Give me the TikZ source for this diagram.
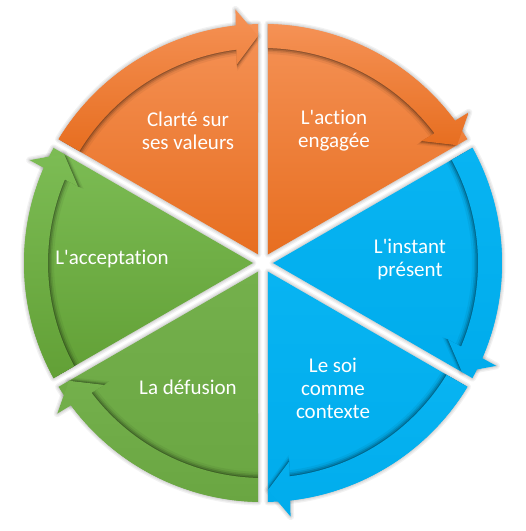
\documentclass[tikz,border=0pt]{standalone}
\usepackage{fontspec}
\setmainfont{Carlito}[Ligatures={NoCommon}]
\definecolor{orT}{RGB}{245,146,86}
\definecolor{orB}{RGB}{231,110,32}
\definecolor{blT}{RGB}{8,180,242}
\definecolor{blB}{RGB}{0,172,236}
\definecolor{grT}{RGB}{124,188,84}
\definecolor{grB}{RGB}{98,160,54}
\definecolor{gmT}{RGB}{116,176,76}
\definecolor{gmB}{RGB}{106,166,66}
\tikzset{
  lbl/.style={text=white,align=center,font=\fontsize{21}{23}\selectfont,inner sep=0pt},
  halo/.style={draw=black,line join=round,opacity=#1},
}
\begin{document}
\begin{tikzpicture}[x=1pt,y=1pt]
\useasboundingbox (-263,-268) rectangle (263,263);
% soft shadows around all shapes
\foreach \e in {30,-30,-90,-150,150,90}{
  \pgfmathsetmacro\s{\e+60-asin(5/239)}
  \pgfmathsetmacro\w{\e+asin(5/239)}
  \pgfmathsetmacro\m{\e+30}
  \pgfmathsetmacro\t{\e+asin(5/227)}
  \pgfmathsetmacro\ho{\t+asin(22/255)}
  \pgfmathsetmacro\hi{\t+asin(22/200)}
  \pgfmathsetmacro\bo{\t+asin(22/239)}
  \pgfmathsetmacro\bi{\t+asin(22/215)}
  \foreach \lw/\op in {7/0.05,4.5/0.06,2/0.07}{
    \path[halo=\op,line width=\lw] (\m:10) -- (\s:239) arc[start angle=\s,end angle=\w,radius=239] -- cycle;
    \path[halo=\op,line width=\lw] (\bo:239) -- (\ho:255) -- (\t:227) -- (\hi:200) -- (\bi:215) -- cycle;
  }
}
% segments: wedge, inner shadow of the band, band arrow
\foreach \e/\ct/\cb in {30/orT/orB,-30/blT/blB,-90/blT/blB,-150/gmT/gmB,150/grT/grB,90/orT/orB}{
  \pgfmathsetmacro\s{\e+60-asin(5/239)}
  \pgfmathsetmacro\w{\e+asin(5/239)}
  \pgfmathsetmacro\m{\e+30}
  \pgfmathsetmacro\si{\e+60-asin(5/215)}
  \pgfmathsetmacro\t{\e+asin(5/227)}
  \pgfmathsetmacro\ho{\t+asin(22/255)}
  \pgfmathsetmacro\hi{\t+asin(22/200)}
  \pgfmathsetmacro\bo{\t+asin(22/239)}
  \pgfmathsetmacro\bi{\t+asin(22/215)}
  \path[top color=\ct,bottom color=\cb] (\m:10) -- (\s:239) arc[start angle=\s,end angle=\w,radius=239] -- cycle;
  \begin{scope}
    \clip (\m:10) -- (\s:239) arc[start angle=\s,end angle=\w,radius=239] -- cycle;
    \foreach \d/\op in {1/0.2,2.5/0.14,4/0.09,6/0.05}{
      \fill[black,opacity=\op] (\si:{215-\d}) -- (\s:{239-\d}) arc[start angle=\s,end angle=\bo,radius={239-\d}] -- (\ho:{255-\d}) -- (\t:{227-\d}) -- (\hi:{200-\d}) -- (\bi:{215-\d}) arc[start angle=\bi,end angle=\si,radius={215-\d}] -- cycle;
    }
  \end{scope}
  \path[top color=\ct,bottom color=\cb] (\si:215) -- (\s:239) arc[start angle=\s,end angle=\bo,radius=239] -- (\ho:255) -- (\t:227) -- (\hi:200) -- (\bi:215) arc[start angle=\bi,end angle=\si,radius=215] -- cycle;
}
\node[lbl] (valeurs) at (-75,132) {Clart\'e sur\\ses valeurs};
\node[lbl] (action) at (71,132) {L\textquotesingle action\\engag\'ee};
\node[lbl] (instant) at (147,4) {L\textquotesingle instant\\pr\'esent};
\node[lbl] (soi) at (70,-125) {Le soi\\comme\\contexte};
\node[lbl] (defusion) at (-75,-124) {La d\'efusion};
\node[lbl] (acceptation) at (-151,4) {L\textquotesingle acceptation};
\end{tikzpicture}
\end{document}
